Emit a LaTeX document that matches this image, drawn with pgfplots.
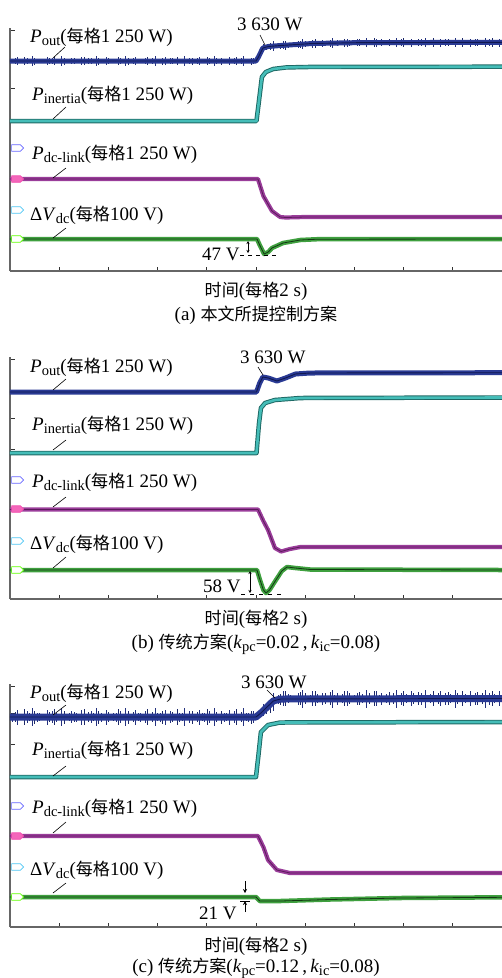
\documentclass[border=0pt]{standalone}
\usepackage{pgfplots}
\usepackage{pgfplotstable}
\pgfplotsset{compat=1.18}
\usepackage{fontspec}
\setmainfont{Liberation Serif}
\newfontfamily\cjk[Scale=0.9]{Noto Sans CJK SC}
\usetikzlibrary{shapes.symbols,arrows.meta}
\definecolor{cout}{HTML}{2A3A94}
\definecolor{coutd}{HTML}{101850}
\definecolor{cin}{HTML}{45BDB8}
\definecolor{cind}{HTML}{1D6864}
\definecolor{cdc}{HTML}{9A3D9A}
\definecolor{cdcd}{HTML}{5C1A5C}
\definecolor{cv}{HTML}{3FA03F}
\definecolor{cvd}{HTML}{123812}
\definecolor{axg}{HTML}{666666}
\newcommand{\sub}[1]{\raisebox{-0.45ex}{\fontsize{14.5}{15}\selectfont #1}}
\newcommand{\mg}{{\cjk 每格}}
% noise envelope of P_out (level in panel a, level in panel c, spike sizes e and f)
\pgfplotstableread{
x ya yc e f
0.1 210 210 3 4
0.3 210 210 5 2
0.5 210 210 2 6
0.7 210 210 4 3
0.9 210 210 6 5
1.1 210 210 3 3
1.3 210 210 2 2
1.5 210 210 5 4
1.7 210 210 4 6
1.9 210 210 3 2
2.1 210 210 6 5
2.3 210 210 2 3
2.5 210 210 4 4
2.7 210 210 3 2
2.9 210 210 5 6
3.1 210 210 2 4
3.3 210 210 4 3
3.5 210 210 6 5
3.7 210 210 3 2
3.9 210 210 5 4
4.1 210 210 2 3
4.3 210 210 3 6
4.5 210 210 4 2
4.7 210 210 6 5
4.9 210 210 2 4
5.1 210 210 5 3
5.3 210 210 3 2
5.5 210 210 4 6
5.7 210 210 2 4
5.9 210 210 6 3
6.1 210 210 3 5
6.3 210 210 5 2
6.5 210 210 4 4
6.7 210 210 2 6
6.9 210 210 3 3
7.1 210 210 6 2
7.3 210 210 4 5
7.5 210 210 2 4
7.7 210 210 5 3
7.9 210 210 3 6
8.1 210 210 4 2
8.3 210 210 6 4
8.5 210 210 2 5
8.7 210 210 3 3
8.9 210 210 5 2
9.1 210 210 4 6
9.3 210 210 2 4
9.5 210 210 6 3
9.7 210 210 3 5
9.9 210 210 4 2
10.3 223.5 217 4 3
10.5 224.5 221 2 5
10.7 225 225.5 6 2
10.9 225.3 227.5 3 4
11.1 225.6 228.5 5 6
11.3 225.9 228.5 3 3
11.5 226.2 228.5 2 2
11.7 226.5 228.5 4 5
11.9 226.8 228.5 6 4
12.1 227.1 228.5 2 3
12.3 227.4 228.5 5 6
12.5 227.6 228.5 3 2
12.7 227.7 228.5 4 4
12.9 227.8 228.5 2 5
13.1 228 228.5 6 3
13.3 228 228.5 4 2
13.5 228 228.5 3 6
13.7 228 228.5 5 4
13.9 228 228.5 2 3
14.1 228.4 228.5 4 5
14.3 228.4 228.5 3 2
14.5 228.4 228.5 6 4
14.7 228.4 228.5 2 6
14.9 228.4 228.5 5 3
15.1 228.4 228.5 4 2
15.3 228.4 228.5 3 5
15.5 228.4 228.5 2 4
15.7 228.4 228.5 6 3
15.9 228.4 228.5 4 6
16.1 228.4 228.5 3 2
16.3 228.4 228.5 5 4
16.5 228.4 228.5 2 5
16.7 228.4 228.5 4 3
16.9 228.4 228.5 6 2
17.1 228.4 228.5 3 6
17.3 228.4 228.5 2 4
17.5 228.4 228.5 5 3
17.7 228.4 228.5 4 5
17.9 228.4 228.5 3 2
18.1 228.4 228.5 6 4
18.3 228.4 228.5 2 6
18.5 228.4 228.5 3 3
18.7 228.4 228.5 5 2
18.9 228.4 228.5 4 5
19.1 228.4 228.5 2 4
19.3 228.4 228.5 6 3
19.5 228.4 228.5 4 6
19.7 228.4 228.5 3 2
19.9 228.4 228.5 5 4
}\noisetab
\pgfplotsset{
  osc/.style={scale only axis, width=492pt, xmin=0, xmax=20,
    axis x line*=bottom, axis y line*=left,
    xtick={2,4,...,18}, xticklabels={}, yticklabels={},
    tick align=inside, major tick length=4.5pt,
    axis line style={line width=1.1pt, color=axg},
    tick style={line width=0.9pt, color=black!80},
    every axis plot/.append style={line join=round, line cap=butt}},
  pbase/.style={line width=5pt, color=cout},
  pbasel/.style={line width=0.9pt, color=coutd},
  ibase/.style={line width=4.5pt, color=cind},
  ibasel/.style={line width=2.6pt, color=cin},
  dbase/.style={line width=4.2pt, color=cdc},
  dbasel/.style={line width=0.8pt, color=cdcd},
  vbase/.style={line width=4.5pt, color=cv},
  vbasel/.style={line width=0.8pt, color=cvd},
  noise/.style={only marks, mark size=0pt, error bars/.cd, y dir=both, y explicit, error mark=none,
    error bar style={line width=0.55pt, color=#1}},
}
\tikzset{chm/.style={signal, signal to=east, draw=#1, line width=0.7pt, minimum width=12pt, minimum height=6.5pt, inner sep=0pt, fill=white},
  lead/.style={line width=0.6pt, black},
  t/.style={inner sep=0pt, anchor=base west}}
\begin{document}
\begin{tikzpicture}[font=\fontsize{19}{22}\selectfont]
\useasboundingbox (0pt,0pt) rectangle (502pt,-978pt);
% ---------------- panel (a)
\begin{axis}[osc, height=243pt, ymin=0, ymax=243, at={(10pt,-271pt)}, anchor=south west, ytick={152,183,210,241}]
\addplot[noise=cout!85!black] table[x=x, y=ya, y error expr=\thisrow{e}*0.8] {\noisetab};
\addplot[noise=cout!70!black] table[x expr=\thisrow{x}+0.1, y=ya, y error expr=\thisrow{f}*0.7] {\noisetab};
\addplot[pbase] coordinates {(0,210) (10.0,210) (10.1,214) (10.28,223) (10.5,224.5) (11,225.5) (12.3,227.5) (14,228.3) (20,228.7)};
\addplot[pbasel] coordinates {(0,210) (10.0,210) (10.1,214) (10.28,223) (10.5,224.5) (11,225.5) (12.3,227.5) (14,228.3) (20,228.7)};
\addplot[ibase] coordinates {(0,150) (10.02,150) (10.12,170) (10.24,194) (10.4,199) (10.7,202) (11.2,203.5) (12,204) (20,204.3)};
\addplot[ibasel] coordinates {(0,150) (10.02,150) (10.12,170) (10.24,194) (10.4,199) (10.7,202) (11.2,203.5) (12,204) (20,204.3)};
\addplot[dbase] coordinates {(0,92) (10.08,92) (10.3,75) (10.65,60) (10.98,54) (11.2,53.5) (12,54) (20,54)};
\addplot[dbasel] coordinates {(0,92) (10.08,92) (10.3,75) (10.65,60) (10.98,54) (11.2,53.5) (12,54) (20,54)};
\addplot[vbase] coordinates {(0,32) (10.04,32) (10.15,26) (10.33,17) (10.5,19) (10.65,23) (11.1,28) (11.8,31) (12.5,31.8) (20,32)};
\addplot[vbasel] coordinates {(0,32) (10.04,32) (10.15,26) (10.33,17) (10.5,19) (10.65,23) (11.1,28) (11.8,31) (12.5,31.8) (20,32)};
\end{axis}
% ---------------- panel (b)
\begin{axis}[osc, height=242pt, ymin=0, ymax=242, at={(10pt,-599pt)}, anchor=south west, ytick={150,181,207,240}]
\addplot[pbase] coordinates {(0,207) (10.02,207) (10.15,216) (10.28,222) (10.5,221) (10.85,218) (11.2,221) (11.6,225) (12.2,226) (20,226.3)};
\addplot[pbasel] coordinates {(0,207) (10.02,207) (10.15,216) (10.28,222) (10.5,221) (10.85,218) (11.2,221) (11.6,225) (12.2,226) (20,226.3)};
\addplot[ibase] coordinates {(0,146) (10.02,146) (10.12,175) (10.2,191) (10.37,196) (10.77,199) (11.8,201) (20,201.5)};
\addplot[ibasel] coordinates {(0,146) (10.02,146) (10.12,175) (10.2,191) (10.37,196) (10.77,199) (11.8,201) (20,201.5)};
\addplot[dbase] coordinates {(0,89.5) (10.08,89.5) (10.3,78) (10.49,69) (10.77,51) (11.02,47.5) (11.38,50) (11.8,52) (20,52)};
\addplot[dbasel] coordinates {(0,89.5) (10.08,89.5) (10.3,78) (10.49,69) (10.77,51) (11.02,47.5) (11.38,50) (11.8,52) (20,52)};
\addplot[vbase] coordinates {(0,29) (10.04,29) (10.15,20) (10.3,9) (10.41,6) (10.55,9) (10.81,19) (11.05,28) (11.26,32) (11.6,31) (12.2,29.5) (20,29)};
\addplot[vbasel] coordinates {(0,29) (10.04,29) (10.15,20) (10.3,9) (10.41,6) (10.55,9) (10.81,19) (11.05,28) (11.26,32) (11.6,31) (12.2,29.5) (20,29)};
\end{axis}
% ---------------- panel (c)
\begin{axis}[osc, height=243pt, ymin=0, ymax=243, at={(10pt,-927pt)}, anchor=south west, ytick={152,183,214,241}]
\addplot[noise=cout!85!black] table[x=x, y=yc, y error expr=\thisrow{e}*1.5] {\noisetab};
\addplot[noise=cout!70!black] table[x expr=\thisrow{x}+0.1, y=yc, y error expr=\thisrow{f}*1.3] {\noisetab};
\addplot[pbase, line width=7pt] coordinates {(0,210) (10.0,210) (10.2,214) (10.45,220) (10.7,226) (11,228) (20,228.5)};
\addplot[pbasel] coordinates {(0,210) (10.0,210) (10.2,214) (10.45,220) (10.7,226) (11,228) (20,228.5)};
\addplot[ibase] coordinates {(0,150) (10.0,150) (10.1,172) (10.2,195) (10.49,202) (10.98,204.5) (20,205)};
\addplot[ibasel] coordinates {(0,150) (10.0,150) (10.1,172) (10.2,195) (10.49,202) (10.98,204.5) (20,205)};
\addplot[dbase] coordinates {(0,91) (10.08,91) (10.3,80) (10.49,67) (10.85,57) (11.38,54) (20,54)};
\addplot[dbasel] coordinates {(0,91) (10.08,91) (10.3,80) (10.49,67) (10.85,57) (11.38,54) (20,54)};
\addplot[vbase] coordinates {(0,30) (10.0,30) (10.15,26) (11,26) (13,27.5) (15.85,29) (20,29.7)};
\addplot[vbasel] coordinates {(0,30) (10.0,30) (10.15,26) (11,26) (13,27.5) (15.85,29) (20,29.7)};
\end{axis}
% ---------------- annotations (pixel positions)
% panel a
\node[t] at (30pt,-42pt) {\textit{P}\sub{out}(\mg1 250 W)};
\node[t] at (32pt,-100pt) {\textit{P}\sub{inertia}(\mg1 250 W)};
\node[t] at (32pt,-159pt) {\textit{P}\sub{dc-link}(\mg1 250 W)};
\node[t] at (30pt,-220pt) {Δ\textit{V}\sub{dc}(\mg100 V)};
\draw[lead] (65pt,-47pt) -- (53pt,-58pt);
\draw[lead] (66pt,-107pt) -- (53pt,-119pt);
\draw[lead] (66pt,-168pt) -- (53pt,-178pt);
\draw[lead] (66pt,-228pt) -- (53pt,-238pt);
\node[t] at (237pt,-30pt) {3 630 W};
\draw[lead] (260pt,-35pt) -- (265pt,-45pt);
\node[t] at (202pt,-260pt) {47 V};
\draw[lead, {Stealth[length=3pt,width=3pt]}-{Stealth[length=3pt,width=3pt]}] (248pt,-241pt) -- (248pt,-253pt);
\draw[lead, dash pattern=on 4pt off 4pt] (240pt,-255pt) -- (276pt,-255pt);
\node[chm=blue!60] at (16pt,-148pt) {};
\node[chm=magenta!70, fill=magenta!60] at (16pt,-179pt) {};
\node[chm=cyan!70] at (16pt,-210pt) {};
\node[chm=green!50!lime] at (16pt,-239pt) {};
\node[inner sep=0pt, anchor=base] at (256pt,-296pt) {{\cjk 时间}(\mg2 s)};
\node[inner sep=0pt, anchor=base] at (256pt,-320pt) {(a) {\cjk 本文所提控制方案}};
% panel b
\node[t] at (30pt,-372pt) {\textit{P}\sub{out}(\mg1 250 W)};
\node[t] at (32pt,-430pt) {\textit{P}\sub{inertia}(\mg1 250 W)};
\node[t] at (32pt,-487pt) {\textit{P}\sub{dc-link}(\mg1 250 W)};
\node[t] at (30pt,-549pt) {Δ\textit{V}\sub{dc}(\mg100 V)};
\draw[lead] (66pt,-379pt) -- (53pt,-390pt);
\draw[lead] (66pt,-440pt) -- (53pt,-450pt);
\draw[lead] (66pt,-497pt) -- (53pt,-507pt);
\draw[lead] (66pt,-557pt) -- (53pt,-568pt);
\node[t] at (240pt,-363pt) {3 630 W};
\draw[lead] (258pt,-367pt) -- (263pt,-375pt);
\node[t] at (203pt,-592pt) {58 V};
\draw[lead, {Stealth[length=3pt,width=3pt]}-{Stealth[length=3pt,width=3pt]}] (250pt,-571pt) -- (250pt,-593pt);
\draw[lead, dash pattern=on 4pt off 5pt] (241pt,-594pt) -- (284pt,-594pt);
\node[chm=blue!60] at (16pt,-480pt) {};
\node[chm=magenta!70, fill=magenta!60] at (16pt,-509pt) {};
\node[chm=cyan!70] at (16pt,-541pt) {};
\node[chm=green!50!lime] at (16pt,-570pt) {};
\node[inner sep=0pt, anchor=base] at (256pt,-624pt) {{\cjk 时间}(\mg2 s)};
\node[inner sep=0pt, anchor=base] at (256pt,-648pt) {(b) {\cjk 传统方案}(\textit{k}\sub{pc}=0.02\,,\,\textit{k}\sub{ic}=0.08)};
% panel c
\node[t] at (30pt,-698pt) {\textit{P}\sub{out}(\mg1 250 W)};
\node[t] at (32pt,-755pt) {\textit{P}\sub{inertia}(\mg1 250 W)};
\node[t] at (32pt,-813pt) {\textit{P}\sub{dc-link}(\mg1 250 W)};
\node[t] at (30pt,-875pt) {Δ\textit{V}\sub{dc}(\mg100 V)};
\draw[lead] (66pt,-705pt) -- (53pt,-715pt);
\draw[lead] (66pt,-766pt) -- (53pt,-776pt);
\draw[lead] (66pt,-822pt) -- (53pt,-833pt);
\draw[lead] (66pt,-883pt) -- (53pt,-893pt);
\node[t] at (241pt,-688pt) {3 630 W};
\draw[lead] (267pt,-690pt) -- (275pt,-698pt);
\node[t] at (199pt,-919pt) {21 V};
\draw[lead, -{Stealth[length=4pt,width=4pt]}] (245pt,-881pt) -- (245pt,-893pt);
\draw[lead, -{Stealth[length=4pt,width=4pt]}] (245pt,-912pt) -- (245pt,-901pt);
\draw[lead] (240pt,-901pt) -- (250pt,-901pt);
\node[chm=blue!60] at (16pt,-806pt) {};
\node[chm=magenta!70, fill=magenta!60] at (16pt,-836pt) {};
\node[chm=cyan!70] at (16pt,-867pt) {};
\node[chm=green!50!lime] at (16pt,-897pt) {};
\node[inner sep=0pt, anchor=base] at (256pt,-951pt) {{\cjk 时间}(\mg2 s)};
\node[inner sep=0pt, anchor=base] at (256pt,-972pt) {(c) {\cjk 传统方案}(\textit{k}\sub{pc}=0.12\,,\,\textit{k}\sub{ic}=0.08)};
\end{tikzpicture}
\end{document}
